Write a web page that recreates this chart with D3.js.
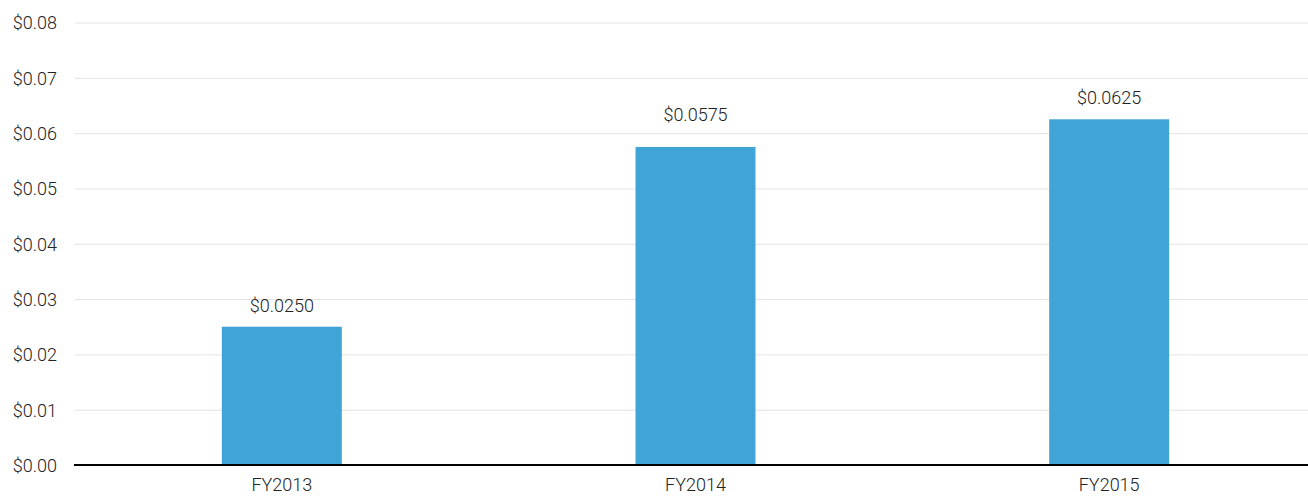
<!DOCTYPE html>
<meta charset="utf-8">
<head>
	<title>Dividend per share</title>
	<script src="https://cdnjs.cloudflare.com/ajax/libs/d3/7.8.5/d3.min.js"></script>
</head>
<style>
	body { margin: 0; background: #fff; }
	svg text { font-family: Roboto, "Liberation Sans", sans-serif; font-size: 18px; font-weight: 300; fill: #222; }
	.grid line { stroke: #e3e3e3; stroke-width: 1px; }
	.bar { fill: #41a4d6; }
</style>
<body>
<script>
	// values
	var years = ["FY2013", "FY2014", "FY2015"];
	var dividends = [0.025, 0.0575, 0.0625];
	var yTicks = [0, 0.01, 0.02, 0.03, 0.04, 0.05, 0.06, 0.07, 0.08];
	// the middle label sits a bit higher in the original
	var labelGap = [15, 26, 15];

	var W = 1308, H = 497;
	var plotLeft = 75, plotTop = 22.5, plotBottom = 465;

	var svg = d3.select("body").append("svg")
		.attr("width", W)
		.attr("height", H);

	var x = d3.scaleBand()
		.domain(years)
		.range([plotLeft, 1316])
		.paddingInner(0.71)
		.paddingOuter(0.355);

	var y = d3.scaleLinear()
		.domain([0, 0.08])
		.range([plotBottom, plotTop]);

	// gridlines + y labels
	var grid = svg.append("g")
		.attr("class", "grid")
		.attr("transform", "translate(" + plotLeft + ",0)")
		.call(d3.axisLeft(y).tickValues(yTicks)
			.tickSize(-(W - plotLeft))
			.tickPadding(18)
			.tickFormat(function(d) { return "$" + d3.format(".2f")(d); }));
	grid.select(".domain").remove();
	grid.selectAll("text").attr("dy", "0.35em");

	svg.selectAll(".bar")
		.data(dividends)
	 .enter().append("rect")
		.attr("class", "bar")
		.attr("x", function(d, i) { return x(years[i]); })
		.attr("width", x.bandwidth())
		.attr("y", function(d) { return y(d); })
		.attr("height", function(d) { return plotBottom - y(d); });

	svg.selectAll(".val")
		.data(dividends)
	 .enter().append("text")
		.attr("class", "val")
		.attr("x", function(d, i) { return x(years[i]) + x.bandwidth() / 2; })
		.attr("y", function(d, i) { return y(d) - labelGap[i]; })
		.attr("text-anchor", "middle")
		.text(function(d) { return "$" + d3.format(".4f")(d); });

	// x axis
	var xAxis = svg.append("g")
		.attr("transform", "translate(0," + plotBottom + ")")
		.call(d3.axisBottom(x).tickSize(0).tickPadding(13));
	xAxis.select(".domain").remove();
	xAxis.selectAll("text").attr("dy", "0.71em");

	svg.append("line")
		.attr("x1", plotLeft - 1).attr("x2", W)
		.attr("y1", plotBottom).attr("y2", plotBottom)
		.attr("stroke", "#000")
		.attr("stroke-width", 2);
</script>
</body>
